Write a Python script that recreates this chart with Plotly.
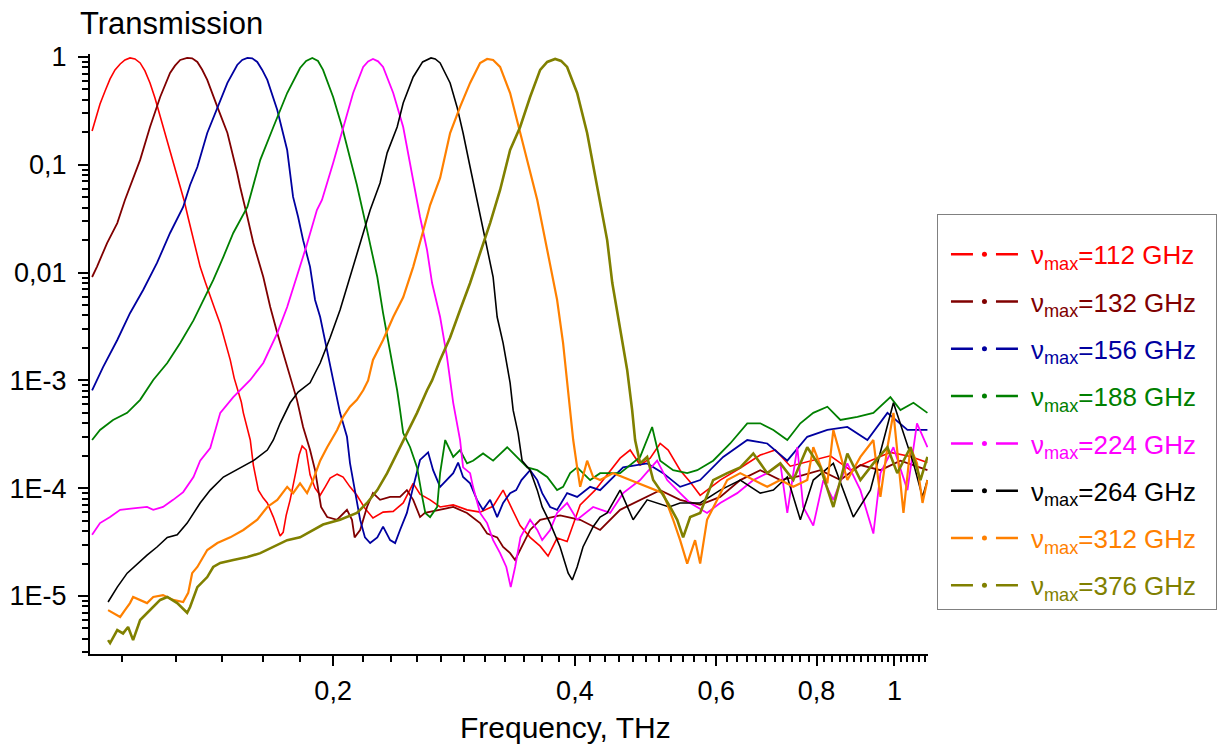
import math
import plotly.graph_objects as go

# Transmission spectra of the mesh filters
# frequency in THz, transmission as fraction

f_112 = [0.1002, 0.1013, 0.1025, 0.1040, 0.1055, 0.1070, 0.1086, 0.1101, 0.1117, 0.1133,
         0.1150, 0.1166, 0.1183, 0.1200, 0.1218, 0.1235, 0.1253, 0.1271, 0.1290, 0.1305,
         0.1320, 0.1340, 0.1355, 0.1366, 0.1386, 0.1406, 0.1426, 0.1447, 0.1468, 0.1489,
         0.1506, 0.1519, 0.1537, 0.1546, 0.1564, 0.1577, 0.1591, 0.1614, 0.1637, 0.1656,
         0.1685, 0.1704, 0.1718, 0.1733, 0.1748, 0.1768, 0.1783, 0.1799, 0.1814, 0.1830,
         0.1851, 0.1872, 0.1899, 0.1927, 0.1955, 0.1983, 0.2023, 0.2058, 0.2099, 0.2141,
         0.2191, 0.2242, 0.2308, 0.2376, 0.2445, 0.2516, 0.2566, 0.2641, 0.2718, 0.2822,
         0.2936, 0.3048, 0.3164, 0.3256, 0.3322, 0.3419, 0.3518, 0.3621, 0.3704, 0.3801,
         0.3912, 0.4061, 0.4239, 0.4426, 0.4554, 0.4687, 0.4823, 0.4964, 0.5108, 0.5227,
         0.5409, 0.5567, 0.5729, 0.6068, 0.6427, 0.6806, 0.7106, 0.7418, 0.7856, 0.8321,
         0.8812, 0.9333, 0.9885, 1.0469, 1.0992]
t_112 = [0.206, 0.278, 0.366, 0.484, 0.625, 0.758, 0.861, 0.938, 0.979, 0.958,
         0.880, 0.742, 0.574, 0.416, 0.284, 0.193, 0.134, 0.0954, 0.0636, 0.0462,
         0.0321, 0.0200, 0.0142, 0.0113, 0.00818, 0.00594, 0.0045, 0.00334, 0.00227, 0.00155,
         0.00105, 8.5e-4, 6.3e-4, 5.0e-4, 3.6e-4, 2.8e-4, 1.64e-4, 9.6e-5, 8.1e-5, 7.3e-5,
         5.4e-5, 4.3e-5, 3.6e-5, 3.9e-5, 5.6e-5, 7.8e-5, 1.03e-4, 1.47e-4, 2.03e-4, 2.46e-4,
         2.26e-4, 1.33e-4, 1.0e-4, 8.6e-5, 1.03e-4, 1.24e-4, 1.35e-4, 1.27e-4, 1.03e-4, 8.6e-5,
         6.5e-5, 5.3e-5, 6.0e-5, 6.1e-5, 7.3e-5, 1.11e-4, 8.8e-5, 7.8e-5, 6.7e-5, 7.0e-5,
         6.3e-5, 6.0e-5, 6.8e-5, 9.6e-5, 7.0e-5, 4.5e-5, 3.5e-5, 2.9e-5, 2.35e-5, 3.45e-5,
         3.2e-5, 7.0e-5, 9.6e-5, 1.47e-4, 1.9e-4, 2.26e-4, 1.64e-4, 1.9e-4, 2.6e-4, 2.26e-4,
         1.47e-4, 1.14e-4, 8.6e-5, 1.19e-4, 1.54e-4, 2.03e-4, 2.26e-4, 1.6e-4, 1.8e-4, 2.0e-4,
         1.47e-4, 1.8e-4, 2.15e-4, 1.97e-4, 1.73e-4]

f_132 = [0.1002, 0.1016, 0.1046, 0.1077, 0.1101, 0.1127, 0.1150, 0.1183, 0.1218, 0.1253,
         0.1271, 0.1290, 0.1316, 0.1335, 0.1355, 0.1374, 0.1394, 0.1435, 0.1477, 0.1519,
         0.1532, 0.1564, 0.1591, 0.1637, 0.1670, 0.1704, 0.1753, 0.1803, 0.1835, 0.1872,
         0.1899, 0.1915, 0.1932, 0.1966, 0.2023, 0.2081, 0.2111, 0.2127, 0.2161, 0.2204,
         0.2242, 0.2288, 0.2355, 0.2423, 0.2471, 0.2516, 0.2566, 0.2602, 0.2718, 0.2822,
         0.2936, 0.3048, 0.3110, 0.3201, 0.3256, 0.3322, 0.3370, 0.3419, 0.3518, 0.3621,
         0.3834, 0.4061, 0.4300, 0.4554, 0.4823, 0.5108, 0.5409, 0.5729, 0.6068, 0.6427,
         0.6806, 0.7209, 0.7635, 0.8086, 0.8564, 0.9070, 0.9606, 1.0173, 1.0992]
t_132 = [0.0091, 0.0113, 0.0188, 0.0288, 0.0471, 0.0754, 0.111, 0.224, 0.425, 0.711,
         0.83, 0.938, 0.98, 0.97, 0.899, 0.76, 0.612, 0.344, 0.197, 0.0839,
         0.0622, 0.0328, 0.0188, 0.0091, 0.0048, 0.00275, 0.00133, 6.6e-4, 3.7e-4, 2.26e-4,
         1.47e-4, 9.6e-5, 6.7e-5, 5.4e-5, 5.1e-5, 6.3e-5, 5.1e-5, 3.5e-5, 4.1e-5, 6.7e-5,
         9.0e-5, 7.8e-5, 8.3e-5, 8.3e-5, 9.6e-5, 7.8e-5, 5.4e-5, 5.9e-5, 6.3e-5, 6.7e-5,
         5.9e-5, 4.75e-5, 3.8e-5, 3.5e-5, 2.85e-5, 2.5e-5, 2.16e-5, 2.7e-5, 4.1e-5, 5.1e-5,
         5.6e-5, 5.1e-5, 4.1e-5, 6.3e-5, 7.8e-5, 9.6e-5, 7.8e-5, 7.0e-5, 8.3e-5, 1.19e-4,
         1.47e-4, 1.19e-4, 1.3e-4, 1.47e-4, 1.19e-4, 1.64e-4, 1.47e-4, 1.8e-4, 1.47e-4]

f_156 = [0.1002, 0.1034, 0.1077, 0.1117, 0.1160, 0.1207, 0.1253, 0.1301, 0.1327, 0.1355,
         0.1394, 0.1435, 0.1477, 0.1519, 0.1541, 0.1564, 0.1586, 0.1609, 0.1632, 0.1656,
         0.1704, 0.1753, 0.1783, 0.1809, 0.1835, 0.1872, 0.1899, 0.1927, 0.1961, 0.2000,
         0.2040, 0.2081, 0.2099, 0.2117, 0.2141, 0.2161, 0.2191, 0.2224, 0.2270, 0.2308,
         0.2355, 0.2389, 0.2423, 0.2471, 0.2516, 0.2566, 0.2626, 0.2664, 0.2718, 0.2772,
         0.2822, 0.2862, 0.2903, 0.2962, 0.3021, 0.3074, 0.3137, 0.3201, 0.3256, 0.3322,
         0.3380, 0.3432, 0.3518, 0.3591, 0.3642, 0.3726, 0.3801, 0.3912, 0.4026, 0.4179,
         0.4300, 0.4593, 0.4921, 0.5152, 0.5409, 0.5729, 0.6120, 0.6557, 0.6944, 0.7355,
         0.7788, 0.8250, 0.8737, 0.9254, 0.9801, 1.0380, 1.0992]
t_156 = [8.1e-4, 1.33e-3, 2.37e-3, 4.2e-3, 6.9e-3, 0.0123, 0.0233, 0.0406, 0.0650, 0.0954,
         0.197, 0.344, 0.574, 0.843, 0.938, 0.98, 0.97, 0.899, 0.758, 0.612,
         0.322, 0.137, 0.0503, 0.0328, 0.0200, 0.0113, 0.00557, 0.00387, 0.00213, 0.00101,
         5.0e-4, 3.0e-4, 1.71e-4, 1.19e-4, 7.8e-5, 5.1e-5, 3.5e-5, 3.1e-5, 3.5e-5, 4.4e-5,
         3.3e-5, 3.1e-5, 4.1e-5, 5.9e-5, 1.03e-4, 1.83e-4, 2.15e-4, 1.47e-4, 1.03e-4, 1.19e-4,
         1.38e-4, 1.73e-4, 1.27e-4, 1.11e-4, 7.8e-5, 6.3e-5, 7.8e-5, 5.4e-5, 7.3e-5, 9.0e-5,
         9.6e-5, 1.19e-4, 1.47e-4, 1.19e-4, 9.0e-5, 6.7e-5, 6.3e-5, 9.0e-5, 8.3e-5, 1.03e-4,
         9.6e-5, 1.56e-4, 1.7e-4, 1.38e-4, 1.03e-4, 1.19e-4, 1.95e-4, 2.8e-4, 2.6e-4, 1.8e-4,
         3.0e-4, 3.47e-4, 3.7e-4, 2.8e-4, 5.0e-4, 3.47e-4, 3.47e-4]

f_188 = [0.1002, 0.1025, 0.1064, 0.1108, 0.1150, 0.1194, 0.1243, 0.1290, 0.1340, 0.1379,
         0.1418, 0.1460, 0.1502, 0.1564, 0.1577, 0.1623, 0.1685, 0.1753, 0.1819, 0.1851,
         0.1884, 0.1915, 0.1943, 0.2000, 0.2052, 0.2099, 0.2141, 0.2204, 0.2270, 0.2308,
         0.2355, 0.2403, 0.2423, 0.2445, 0.2494, 0.2544, 0.2582, 0.2605, 0.2641, 0.2695,
         0.2718, 0.2758, 0.2822, 0.2878, 0.2936, 0.2987, 0.3074, 0.3164, 0.3294, 0.3390,
         0.3489, 0.3591, 0.3695, 0.3801, 0.3867, 0.3946, 0.4026, 0.4179, 0.4300, 0.4554,
         0.4823, 0.4992, 0.5108, 0.5302, 0.5520, 0.5681, 0.5946, 0.6244, 0.6557, 0.6806,
         0.7067, 0.7355, 0.7635, 0.7924, 0.8250, 0.8564, 0.8991, 0.9414, 0.9885, 1.0173,
         1.0560, 1.0992]
t_188 = [2.8e-4, 3.47e-4, 4.3e-4, 5.0e-4, 6.6e-4, 1.01e-3, 1.45e-3, 2.22e-3, 3.6e-3, 5.6e-3,
         8.5e-3, 0.0140, 0.0233, 0.0406, 0.0503, 0.111, 0.224, 0.463, 0.79, 0.918,
         0.979, 0.918, 0.758, 0.425, 0.224, 0.118, 0.0650, 0.0249, 0.0091, 0.0042,
         0.00192, 8.1e-4, 5.3e-4, 3.25e-4, 2.4e-4, 1.56e-4, 8.3e-5, 5.9e-5, 5.4e-5, 6.7e-5,
         1.38e-4, 2.8e-4, 1.95e-4, 2.26e-4, 1.7e-4, 1.8e-4, 2.1e-4, 1.8e-4, 2.4e-4, 1.95e-4,
         1.56e-4, 1.47e-4, 1.27e-4, 9.6e-5, 1.03e-4, 1.38e-4, 1.56e-4, 1.19e-4, 1.38e-4, 1.38e-4,
         1.95e-4, 3.7e-4, 1.8e-4, 1.47e-4, 1.38e-4, 1.47e-4, 1.8e-4, 2.6e-4, 4.0e-4, 4.0e-4,
         3.47e-4, 2.8e-4, 4.0e-4, 5.0e-4, 5.7e-4, 4.3e-4, 4.6e-4, 5.0e-4, 7.0e-4, 5.3e-4,
         6.2e-4, 5.0e-4]

f_224 = [0.1002, 0.1025, 0.1055, 0.1086, 0.1127, 0.1173, 0.1194, 0.1228, 0.1264, 0.1301,
         0.1340, 0.1366, 0.1406, 0.1447, 0.1502, 0.1577, 0.1637, 0.1704, 0.1753, 0.1803,
         0.1851, 0.1909, 0.1937, 0.2000, 0.2058, 0.2118, 0.2180, 0.2211, 0.2242, 0.2275,
         0.2308, 0.2376, 0.2445, 0.2494, 0.2516, 0.2566, 0.2618, 0.2656, 0.2718, 0.2772,
         0.2822, 0.2878, 0.2903, 0.2962, 0.2987, 0.3048, 0.3110, 0.3164, 0.3228, 0.3286,
         0.3328, 0.3370, 0.3422, 0.3518, 0.3591, 0.3642, 0.3726, 0.3801, 0.3912, 0.4026,
         0.4215, 0.4426, 0.4593, 0.4823, 0.5064, 0.5212, 0.5409, 0.5567, 0.5843, 0.6068,
         0.6371, 0.6672, 0.6944, 0.7209, 0.7355, 0.7569, 0.7699, 0.7924, 0.8156, 0.8393,
         0.8737, 0.9070, 0.9414, 0.9606, 0.9971, 1.0380, 1.0668, 1.0992]
t_224 = [3.7e-5, 4.75e-5, 5.4e-5, 6.3e-5, 6.5e-5, 6.7e-5, 6.3e-5, 6.7e-5, 7.8e-5, 9.2e-5,
         1.27e-4, 1.8e-4, 2.36e-4, 5.0e-4, 7.0e-4, 1.01e-3, 1.45e-3, 2.75e-3, 4.8e-3, 9.1e-3,
         0.0173, 0.0380, 0.0471, 0.104, 0.224, 0.463, 0.808, 0.91, 0.958, 0.91,
         0.808, 0.463, 0.224, 0.0996, 0.0678, 0.0328, 0.0162, 8.0e-3, 3.87e-3, 1.65e-3,
         6.2e-4, 2.8e-4, 1.56e-4, 1.38e-4, 1.03e-4, 5.9e-5, 4.75e-5, 3.3e-5, 2.5e-5, 1.86e-5,
         1.21e-5, 1.86e-5, 3.5e-5, 5.1e-5, 4.1e-5, 3.3e-5, 4.1e-5, 5.9e-5, 7.3e-5, 5.1e-5,
         6.7e-5, 5.9e-5, 9.0e-5, 1.19e-4, 1.8e-4, 1.19e-4, 9.0e-5, 7.3e-5, 5.9e-5, 7.3e-5,
         9.0e-5, 1.19e-4, 1.38e-4, 1.7e-4, 5.9e-5, 2.4e-4, 6.7e-5, 4.5e-5, 1.19e-4, 7.8e-5,
         1.7e-4, 9.6e-5, 3.8e-5, 1.38e-4, 2.4e-4, 9.6e-5, 4.0e-4, 2.4e-4]

f_264 = [0.1049, 0.1077, 0.1108, 0.1141, 0.1173, 0.1207, 0.1243, 0.1279, 0.1316, 0.1366,
         0.1406, 0.1460, 0.1532, 0.1591, 0.1656, 0.1685, 0.1718, 0.1768, 0.1809, 0.1872,
         0.1927, 0.1983, 0.2040, 0.2099, 0.2161, 0.2224, 0.2288, 0.2335, 0.2403, 0.2445,
         0.2516, 0.2585, 0.2648, 0.2680, 0.2718, 0.2797, 0.2853, 0.2903, 0.2962, 0.3021,
         0.3110, 0.3164, 0.3201, 0.3256, 0.3322, 0.3351, 0.3399, 0.3438, 0.3518, 0.3591,
         0.3642, 0.3726, 0.3834, 0.3924, 0.3970, 0.4026, 0.4094, 0.4215, 0.4300, 0.4388,
         0.4554, 0.4727, 0.4921, 0.5242, 0.5409, 0.5729, 0.6068, 0.6427, 0.6806, 0.7067,
         0.7355, 0.7635, 0.7924, 0.8393, 0.8888, 0.9333, 0.9971, 1.0173, 1.0560, 1.0838,
         1.0992]
t_264 = [8.8e-6, 1.21e-5, 1.63e-5, 2.0e-5, 2.4e-5, 2.85e-5, 3.5e-5, 3.7e-5, 4.75e-5, 7.3e-5,
         9.6e-5, 1.27e-4, 1.56e-4, 1.8e-4, 2.26e-4, 2.8e-4, 4.0e-4, 6.2e-4, 7.8e-4, 9.5e-4,
         1.45e-3, 2.5e-3, 4.5e-3, 9.1e-3, 0.0188, 0.0380, 0.0678, 0.129, 0.224, 0.374,
         0.652, 0.899, 0.979, 0.958, 0.880, 0.574, 0.344, 0.197, 0.0954, 0.0471,
         0.0173, 9.1e-3, 3.87e-3, 2.22e-3, 9.5e-4, 5.3e-4, 3.25e-4, 1.8e-4, 1.47e-4, 9.6e-5,
         6.7e-5, 4.75e-5, 2.85e-5, 1.63e-5, 1.41e-5, 1.86e-5, 2.85e-5, 4.4e-5, 5.4e-5, 5.9e-5,
         9.6e-5, 5.1e-5, 7.8e-5, 6.7e-5, 7.3e-5, 7.3e-5, 9.6e-5, 1.19e-4, 9.0e-5, 9.6e-5,
         1.27e-4, 5.1e-5, 1.19e-4, 1.7e-4, 5.4e-5, 9.6e-5, 6.2e-4, 4.0e-4, 1.7e-4, 8.3e-5,
         1.19e-4]

f_312 = [0.1049, 0.1064, 0.1086, 0.1101, 0.1117, 0.1127, 0.1150, 0.1173, 0.1194, 0.1228,
         0.1264, 0.1301, 0.1320, 0.1335, 0.1355, 0.1394, 0.1435, 0.1489, 0.1546, 0.1609,
         0.1656, 0.1704, 0.1753, 0.1783, 0.1819, 0.1856, 0.1888, 0.1927, 0.1966, 0.2023,
         0.2058, 0.2099, 0.2141, 0.2180, 0.2211, 0.2242, 0.2308, 0.2376, 0.2445, 0.2516,
         0.2585, 0.2641, 0.2718, 0.2797, 0.2878, 0.2962, 0.3048, 0.3110, 0.3164, 0.3228,
         0.3322, 0.3419, 0.3518, 0.3591, 0.3695, 0.3801, 0.3867, 0.3946, 0.3981, 0.4026,
         0.4061, 0.4143, 0.4215, 0.4300, 0.4465, 0.4687, 0.4921, 0.5152, 0.5302, 0.5409,
         0.5520, 0.5646, 0.5729, 0.5843, 0.6016, 0.6191, 0.6427, 0.6672, 0.6944, 0.7209,
         0.7483, 0.7788, 0.7924, 0.8250, 0.8393, 0.8737, 0.9070, 0.9414, 0.9606, 0.9801,
         0.9971, 1.0262, 1.0469, 1.0668, 1.0838, 1.0992]
t_312 = [7.4e-6, 7.0e-6, 6.4e-6, 7.4e-6, 8.6e-6, 9.8e-6, 9.2e-6, 8.6e-6, 9.8e-6, 1.02e-5,
         9.2e-6, 8.8e-6, 1.07e-5, 1.63e-5, 1.86e-5, 2.67e-5, 3.1e-5, 3.5e-5, 4.1e-5, 5.1e-5,
         6.7e-5, 7.8e-5, 1.03e-4, 9.0e-5, 1.11e-4, 9.0e-5, 1.19e-4, 1.8e-4, 2.4e-4, 3.47e-4,
         4.6e-4, 5.7e-4, 6.6e-4, 8.1e-4, 1.0e-3, 1.55e-3, 2.37e-3, 3.87e-3, 5.9e-3, 0.0113,
         0.0233, 0.0423, 0.0754, 0.197, 0.344, 0.574, 0.88, 0.958, 0.938, 0.808,
         0.463, 0.197, 0.0839, 0.0471, 0.0162, 5.6e-3, 2.22e-3, 5.3e-4, 2.8e-4, 1.56e-4,
         1.03e-4, 1.8e-4, 1.27e-4, 1.19e-4, 1.38e-4, 1.19e-4, 1.03e-4, 9.0e-5, 5.1e-5, 3.3e-5,
         2.0e-5, 3.3e-5, 2.0e-5, 5.1e-5, 7.8e-5, 1.19e-4, 1.38e-4, 1.19e-4, 1.03e-4, 1.19e-4,
         1.03e-4, 1.19e-4, 2.4e-4, 1.11e-4, 3.47e-4, 1.19e-4, 1.95e-4, 2.8e-4, 8.3e-5, 2.4e-4,
         5.0e-4, 5.9e-5, 2.4e-4, 1.7e-4, 7.3e-5, 1.19e-4]

f_376 = [0.1049, 0.1055, 0.1077, 0.1095, 0.1111, 0.1127, 0.1150, 0.1183, 0.1218, 0.1243,
         0.1279, 0.1316, 0.1327, 0.1355, 0.1394, 0.1418, 0.1447, 0.1502, 0.1564, 0.1623,
         0.1685, 0.1753, 0.1819, 0.1888, 0.1943, 0.2040, 0.2141, 0.2204, 0.2270, 0.2335,
         0.2403, 0.2471, 0.2544, 0.2618, 0.2656, 0.2718, 0.2797, 0.2878, 0.2962, 0.3048,
         0.3137, 0.3228, 0.3322, 0.3419, 0.3518, 0.3621, 0.3695, 0.3780, 0.3845, 0.3912,
         0.4026, 0.4143, 0.4215, 0.4300, 0.4388, 0.4453, 0.4554, 0.4647, 0.4714, 0.4754,
         0.4823, 0.4921, 0.5007, 0.5108, 0.5257, 0.5364, 0.5456, 0.5567, 0.5729, 0.5946,
         0.6191, 0.6427, 0.6672, 0.6944, 0.7209, 0.7483, 0.7788, 0.8086, 0.8393, 0.8737,
         0.9070, 0.9414, 0.9801, 1.0081, 1.0469, 1.0774, 1.0992]
t_376 = [3.9e-6, 3.66e-6, 4.84e-6, 4.5e-6, 5.16e-6, 3.9e-6, 6.0e-6, 7.4e-6, 9.2e-6, 9.8e-6,
         8.6e-6, 7.0e-6, 7.9e-6, 1.21e-5, 1.5e-5, 1.86e-5, 2.03e-5, 2.16e-5, 2.3e-5, 2.5e-5,
         2.85e-5, 3.3e-5, 3.5e-5, 4.1e-5, 4.6e-5, 5.1e-5, 5.9e-5, 7.3e-5, 9.6e-5, 1.38e-4,
         2.1e-4, 3.25e-4, 5.0e-4, 8.1e-4, 1.0e-3, 1.55e-3, 2.5e-3, 4.5e-3, 8.0e-3, 0.0152,
         0.0288, 0.0584, 0.137, 0.224, 0.425, 0.758, 0.899, 0.958, 0.918, 0.808,
         0.463, 0.197, 0.1, 0.0471, 0.0200, 8.0e-3, 3.13e-3, 1.25e-3, 5.3e-4, 2.8e-4,
         1.7e-4, 1.95e-4, 1.19e-4, 9.6e-5, 6.7e-5, 5.1e-5, 3.5e-5, 5.4e-5, 5.9e-5, 1.19e-4,
         1.38e-4, 1.56e-4, 2.1e-4, 1.38e-4, 1.7e-4, 1.19e-4, 2.4e-4, 1.56e-4, 6.7e-5, 2.1e-4,
         1.19e-4, 1.7e-4, 2.4e-4, 1.38e-4, 2.4e-4, 1.19e-4, 1.95e-4]

nu_max = ['112', '132', '156', '188', '224', '264', '312', '376']
colors = ['#FF0000', '#800000', '#0000A0', '#008000', '#FF00FF', '#000000', '#FF8000', '#808000']
widths = [1.6, 1.8, 1.8, 1.8, 1.8, 1.6, 2.2, 2.6]

x_ticks = [0.2, 0.4, 0.6, 0.8, 1.0]
x_ticktext = ['0,2', '0,4', '0,6', '0,8', '1']
y_ticks = [1, 0.1, 0.01, 1e-3, 1e-4, 1e-5]
y_ticktext = ['1', '0,1', '0,01', '1E-3', '1E-4', '1E-5']

series = [(f_112, t_112), (f_132, t_132), (f_156, t_156), (f_188, t_188),
          (f_224, t_224), (f_264, t_264), (f_312, t_312), (f_376, t_376)]
for f, t in series:
    assert len(f) == len(t)

# origin style minor ticks: 10 per major interval on x, 2..9 per decade on y
x_minor = [0.2 * k / 11 for k in range(1, 67) if k % 11 != 0]
y_minor = [m * 10.0 ** e for e in range(-6, 1) for m in range(2, 10)]

FONT = 'Liberation Sans'

fig = go.Figure()

for (f, t), col, w in zip(series, colors, widths):
    fig.add_trace(go.Scatter(x=f, y=t, mode='lines', line=dict(color=col, width=w),
                             showlegend=False, hoverinfo='skip'))

# legend entries: dash - symbol - dash like the origin legend
# (legend line runs 83px with the symbol in its middle)
for nu, col in zip(nu_max, colors):
    fig.add_trace(go.Scatter(
        x=[None], y=[None], mode='lines+markers',
        name='<span style="color:%s">ν<sub>max</sub>=%s GHz</span>\u00a0\u00a0' % (col, nu),
        line=dict(color=col, width=2.5, dash='0px,8px,22px,23px,22px,100px'),
        marker=dict(color=col, size=5),
        legendgroup=nu,
    ))

axis_common = dict(
    type='log', showgrid=False, zeroline=False,
    showline=True, linecolor='black', linewidth=2,
    ticks='outside', ticklen=10, tickwidth=2, tickcolor='black',
    tickfont=dict(family=FONT, size=27, color='black'),
)

fig.update_layout(
    width=1219, height=744,
    paper_bgcolor='white', plot_bgcolor='white',
    margin=dict(l=90, r=291, t=54, b=90, autoexpand=False),
    font=dict(family=FONT, color='black'),
    xaxis=dict(axis_common, range=[math.log10(0.0996), math.log10(1.101)],
               tickmode='array', tickvals=x_ticks, ticktext=x_ticktext,
               ticklabelstandoff=2,
               minor=dict(tickmode='array', tickvals=x_minor, ticks='outside',
                          ticklen=6, tickwidth=1.5, tickcolor='black', showgrid=False)),
    yaxis=dict(axis_common, range=[math.log10(2.9e-6), math.log10(1.065)],
               tickmode='array', tickvals=y_ticks, ticktext=y_ticktext,
               ticklabelstandoff=6,
               minor=dict(tickmode='array', tickvals=y_minor, ticks='outside',
                          ticklen=6, tickwidth=1.5, tickcolor='black', showgrid=False)),
    legend=dict(x=1.0107, y=0.733, xanchor='left', yanchor='top',
                bgcolor='white', bordercolor='#808080', borderwidth=1,
                font=dict(family=FONT, size=26), tracegroupgap=10.5, itemwidth=83,
                title=dict(text=' ', font=dict(size=12))),
    annotations=[
        dict(text='Transmission', xref='paper', yref='paper', x=-0.0143, y=1.05,
             xanchor='left', yanchor='middle', showarrow=False,
             font=dict(family=FONT, size=31, color='black')),
        dict(text='Frequency, THz', xref='paper', yref='paper', x=0.567, y=-0.122,
             xanchor='center', yanchor='middle', showarrow=False,
             font=dict(family=FONT, size=30, color='black')),
    ],
)

# the page body has a default margin; drop it so the figure sits at the window corner
fig.write_html('out.html', config={'displayModeBar': False},
               post_script="document.body.style.margin='0px';")
